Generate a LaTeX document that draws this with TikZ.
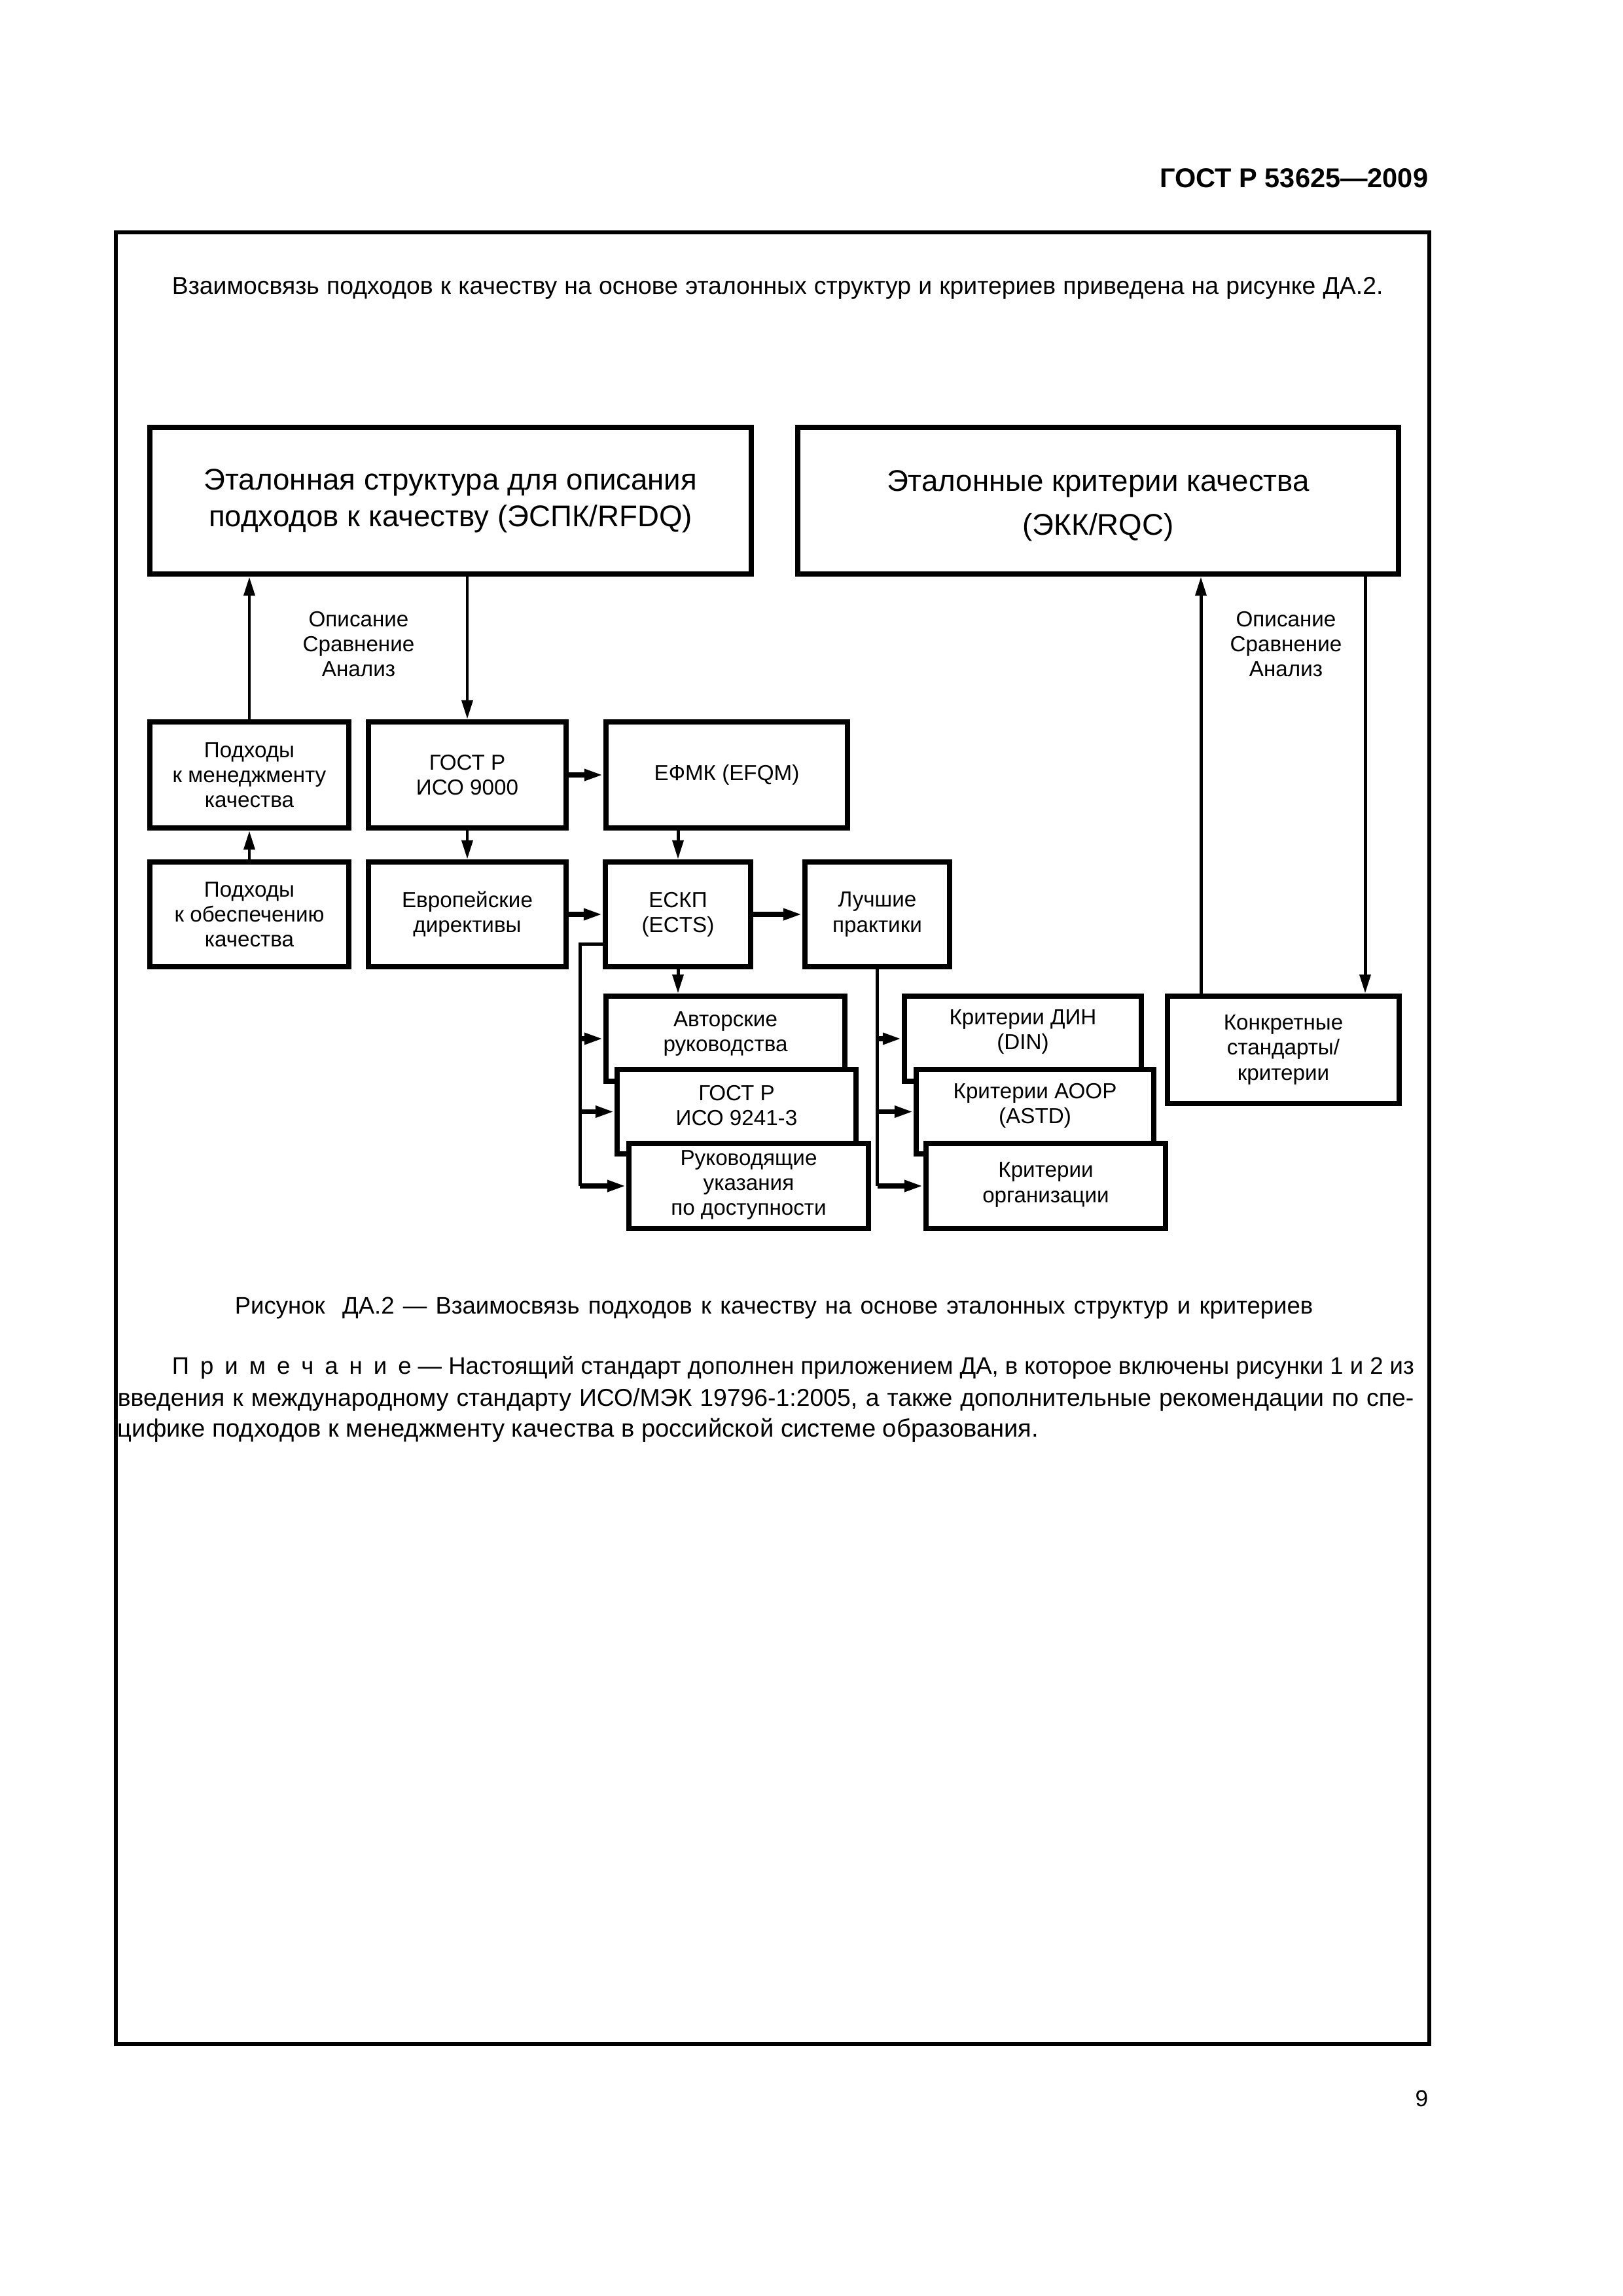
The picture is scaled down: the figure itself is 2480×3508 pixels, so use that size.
\documentclass[tikz,border=0pt]{standalone}
\usepackage{fontspec}
\setmainfont{Liberation Sans}
\usetikzlibrary{arrows.meta}
\newcommand\gostsp{\hspace{4.1pt}}
\newcommand\pbox[7][]{\node[box,#1,minimum width={(#5-#3)*0.084677mm},minimum height={(#6-#4)*0.084677mm}] (#2) at ({(#3+#5)/2},{(#4+#6)/2}) {#7};}
\begin{document}
\begin{tikzpicture}[x=0.084677mm, y=-0.084677mm,
  box/.style={draw, line width=2pt, fill=white, inner sep=0pt, align=center},
  bigtxt/.style={font=\fontsize{11}{13.5}\selectfont},
  smtxt/.style={font=\fontsize{8}{9.2}\selectfont},
  lbl/.style={smtxt, align=center, inner sep=0pt},
  conn/.style={line width=1.2pt},
  hconn/.style={line width=1.8pt},
  arr/.style={-{Triangle[length=7pt,width=4pt]}},
  ptxt/.style={inner sep=0pt, anchor=base west, font=\fontsize{9}{11}\selectfont}]
\useasboundingbox (0,0) rectangle (2480,3508);
\fill[white] (0,0) rectangle (2480,3508);

% page header and frame
\node[anchor=base east, inner sep=0pt, font=\bfseries\fontsize{10}{12}\selectfont] (hdr) at (2183,286) {ГОСТ Р 53625—2009};
\draw[line width=1.45pt] (177,355) rectangle (2184,3123);

\node[ptxt] (intro) at (262,449) {\makebox[156.7mm][s]{Взаимосвязь подходов к качеству на основе эталонных структур и критериев приведена на рисунке ДА.2.}};

% main boxes
\pbox[bigtxt]{a}{229}{653}{1148}{877}{Эталонная структура для описания\\подходов к качеству (ЭСПК/RFDQ)}
\pbox{b}{1219}{653}{2137}{877}{}
\node[bigtxt, align=center, inner sep=0pt] (bT) at ([yshift=-1.8pt]b.center) {Эталонные критерии качества\\[2.7pt](ЭКК/RQC)};

% row 1
\pbox[smtxt]{m}{229}{1103}{533}{1265}{Подходы\\к менеджменту\\качества}
\pbox[smtxt]{g9}{563}{1103}{865}{1265}{ГОСТ Р\\ИСО 9000}
\pbox[smtxt]{ef}{926}{1103}{1295}{1265}{ЕФМК (EFQM)}
% row 2
\pbox[smtxt]{o}{229}{1317}{533}{1477}{Подходы\\к обеспечению\\качества}
\pbox[smtxt]{eu}{563}{1317}{865}{1477}{Европейские\\директивы}
\pbox[smtxt]{ec}{925}{1317}{1147}{1477}{ЕСКП\\(ECTS)}
\pbox[smtxt]{bp}{1230}{1317}{1451}{1477}{Лучшие\\практики}

% stacked boxes left
\pbox{avt}{926}{1522}{1291}{1652}{}
\node[lbl] (avtT) at ([yshift=1.8pt]avt.center) {Авторские\\руководства};
\pbox{g92}{943}{1634}{1308}{1763}{}
\node[lbl] (g92T) at ([yshift=2.2pt]g92.center) {ГОСТ Р\\ИСО 9241-3};
\pbox{ruk}{961}{1747}{1327}{1877}{}
\node[lbl] (rukT) at ([yshift=0.3pt]ruk.center) {Руководящие\\указания\\по доступности};

% stacked boxes right
\pbox{din}{1382}{1522}{1744}{1652}{}
\node[lbl] (dinT) at ([yshift=2.5pt]din.center) {Критерии ДИН\\(DIN)};
\pbox{ao}{1400}{1634}{1763}{1763}{}
\node[lbl] (aoT) at ([yshift=2.2pt]ao.center) {Критерии АООР\\(ASTD)};
\pbox{org}{1415}{1747}{1781}{1877}{}
\node[lbl] (orgT) at ([yshift=0.5pt]org.center) {Критерии\\организации};

\pbox[smtxt]{konk}{1784}{1522}{2138}{1686}{Конкретные\\стандарты/\\критерии}

% labels
\node[lbl] (lblL) at (548,984) {Описание\\Сравнение\\Анализ};
\node[lbl] (lblR) at (1965,984) {Описание\\Сравнение\\Анализ};

% connectors left part
\draw[conn,arr] (m.north) -- (m.north |- a.south);
\draw[conn,arr] (g9.north |- a.south) -- (g9.north);
\draw[conn,arr] (o.north) -- (m.south);
\draw[conn,arr] (g9.south) -- (eu.north);
\draw[hconn,arr] (g9.east) -- (ef.west);
\draw[hconn,arr] (eu.east) -- (ec.west);
\draw[hconn,arr] (ec.east) -- (bp.west);
\draw[conn,arr] (ec.north |- ef.south) -- (ec.north);
\draw[conn,arr] (ec.south) -- (ec.south |- avt.north);

% left bus
\coordinate (busL) at (886,1442);
\draw[conn] (ec.west |- busL) -- (busL) -- (busL |- ruk.west);
\draw[hconn,arr] (busL |- avt.west) -- (avt.west);
\draw[hconn,arr] (busL |- g92.west) -- (g92.west);
\draw[hconn,arr] (busL |- ruk.west) -- (ruk.west);

% right bus
\draw[conn] (bp.south) -- (bp.south |- org.west);
\draw[hconn,arr] (bp.south |- din.west) -- (din.west);
\draw[hconn,arr] (bp.south |- ao.west) -- (ao.west);
\draw[hconn,arr] (bp.south |- org.west) -- (org.west);

% right side
\coordinate (rU) at (1835,1000);
\coordinate (rD) at (2086,1000);
\draw[conn,arr] (konk.north -| rU) -- (b.south -| rU);
\draw[conn,arr] (b.south -| rD) -- (konk.north -| rD);

% caption and note
\node[ptxt, font=\fontsize{8.8}{11}\selectfont] (cap) at (358,2007) {\makebox[139.5mm][s]{Рисунок\ \ ДА.2 — Взаимосвязь подходов к качеству на основе эталонных структур и критериев}};
\node[ptxt, font=\fontsize{8.8}{11}\selectfont] (note1) at (262,2099) {\makebox[160.7mm][s]{П\gostsp р\gostsp и\gostsp м\gostsp е\gostsp ч\gostsp а\gostsp н\gostsp и\gostsp е — Настоящий стандарт дополнен приложением ДА, в которое включены рисунки 1 и 2 из}};
\node[ptxt] (note2) at (179,2148) {\makebox[167.7mm][s]{введения к международному стандарту ИСО/МЭК 19796-1:2005, а также дополнительные рекомендации по спе-}};
\node[ptxt, font=\fontsize{9.2}{11}\selectfont] (note3) at (179,2195) {цифике подходов к менеджменту качества в российской системе образования.};

\node[anchor=base east, inner sep=0pt, font=\fontsize{8.5}{10}\selectfont] (pg) at (2183,3218) {9};
\end{tikzpicture}
\end{document}
